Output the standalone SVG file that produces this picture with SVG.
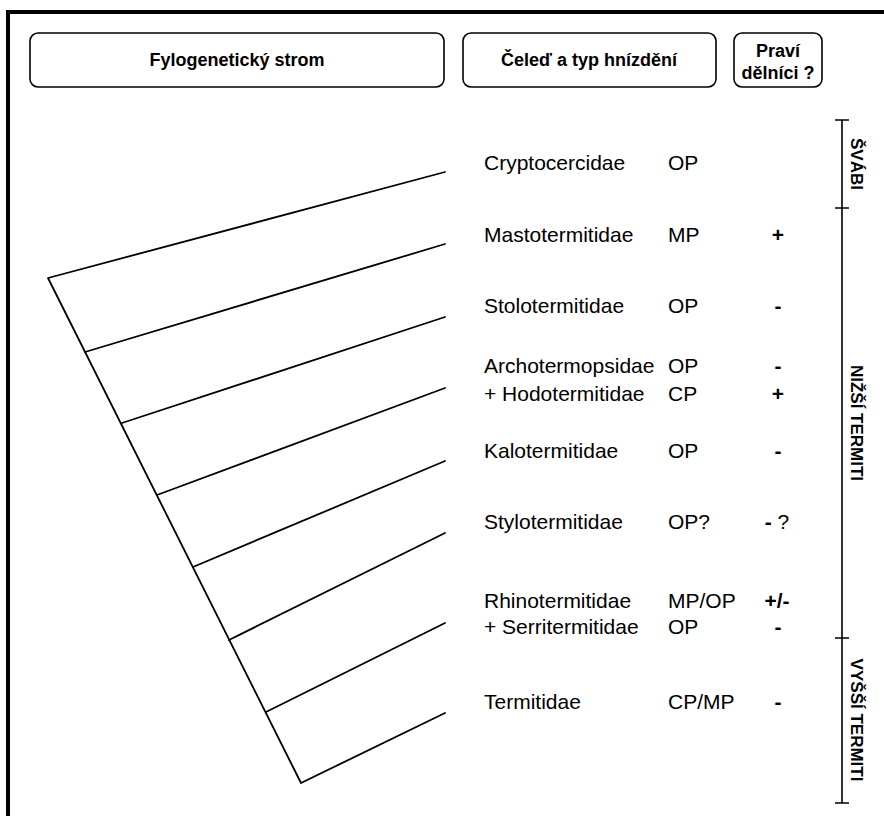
<svg xmlns="http://www.w3.org/2000/svg" width="884" height="816" viewBox="0 0 884 816">
<style>
.hdr{fill:#fff;stroke:#000;stroke-width:1.6}
.ht{font-family:"Liberation Sans",Arial,sans-serif;font-weight:bold;font-size:18px;fill:#000;text-anchor:middle}
.t{font-family:"Liberation Sans",Arial,sans-serif;font-size:21px;fill:#000}
.s{font-family:"Liberation Sans",Arial,sans-serif;font-size:21px;font-weight:bold;fill:#000;text-anchor:middle}
.br{font-family:"Liberation Sans",Arial,sans-serif;font-size:17px;font-weight:bold;fill:#000;text-anchor:middle}
.ln{stroke:#000;stroke-width:1.8;fill:none;stroke-linecap:round;stroke-linejoin:round}
</style>
<rect width="884" height="816" fill="#fff"/>
<path d="M8,816 V12 H884" fill="none" stroke="#000" stroke-width="4"/>
<g id="header-tree"><rect class="hdr" x="30" y="33" width="414" height="54" rx="8"/><text class="ht" x="237" y="66">Fylogenetický strom</text></g>
<g id="header-family"><rect class="hdr" x="463" y="33" width="253" height="54" rx="8"/><text class="ht" x="589" y="66">Čeleď a typ hnízdění</text></g>
<g id="header-workers"><rect class="hdr" x="734" y="33" width="88" height="54" rx="8"/><text class="ht" x="778" y="57">Praví</text><text class="ht" x="778" y="79">dělníci ?</text></g>
<g id="connectors">
<path class="ln" d="M445,172 L48,278 L301,783 L445,713"/>
<path class="ln" d="M85,352 L445,244"/>
<path class="ln" d="M122,423 L445,317"/>
<path class="ln" d="M157,495 L445,388"/>
<path class="ln" d="M193,567 L445,461"/>
<path class="ln" d="M229,640 L445,533"/>
<path class="ln" d="M266,712 L445,623"/>
</g>
<g id="cryptocercidae"><text class="t" x="484" y="170">Cryptocercidae</text><text class="t" x="668" y="170">OP</text></g>
<g id="mastotermitidae"><text class="t" x="484" y="242">Mastotermitidae</text><text class="t" x="668" y="242">MP</text><text class="s" x="778" y="242">+</text></g>
<g id="stolotermitidae"><text class="t" x="484" y="313">Stolotermitidae</text><text class="t" x="668" y="313">OP</text><text class="s" x="778" y="313">-</text></g>
<g id="archotermopsidae"><text class="t" x="484" y="373">Archotermopsidae</text><text class="t" x="668" y="373">OP</text><text class="s" x="778" y="373">-</text>
<text class="t" x="484" y="401">+ Hodotermitidae</text><text class="t" x="668" y="401">CP</text><text class="s" x="778" y="401">+</text></g>
<g id="kalotermitidae"><text class="t" x="484" y="458">Kalotermitidae</text><text class="t" x="668" y="458">OP</text><text class="s" x="778" y="458">-</text></g>
<g id="stylotermitidae"><text class="t" x="484" y="529">Stylotermitidae</text><text class="t" x="668" y="529">OP?</text><text class="s" x="777" y="529">-<tspan font-weight="normal"> ?</tspan></text></g>
<g id="rhinotermitidae"><text class="t" x="484" y="608">Rhinotermitidae</text><text class="t" x="668" y="608">MP/OP</text><text class="s" x="777" y="608">+/-</text>
<text class="t" x="484" y="634">+ Serritermitidae</text><text class="t" x="668" y="634">OP</text><text class="s" x="778" y="634">-</text></g>
<g id="termitidae"><text class="t" x="484" y="709">Termitidae</text><text class="t" x="668" y="709">CP/MP</text><text class="s" x="778" y="709">-</text></g>
<g id="groups">
<path stroke="#000" stroke-width="1.6" fill="none" d="M842,120 V803 M835,120 H849 M835,208 H849 M835,638 H849 M835,803 H849"/>
<text class="br" transform="translate(851,164) rotate(90)">ŠVÁBI</text>
<text class="br" transform="translate(851,423) rotate(90)">NIŽŠÍ TERMITI</text>
<text class="br" transform="translate(851,720) rotate(90)">VYŠŠÍ TERMITI</text>
</g>
</svg>
